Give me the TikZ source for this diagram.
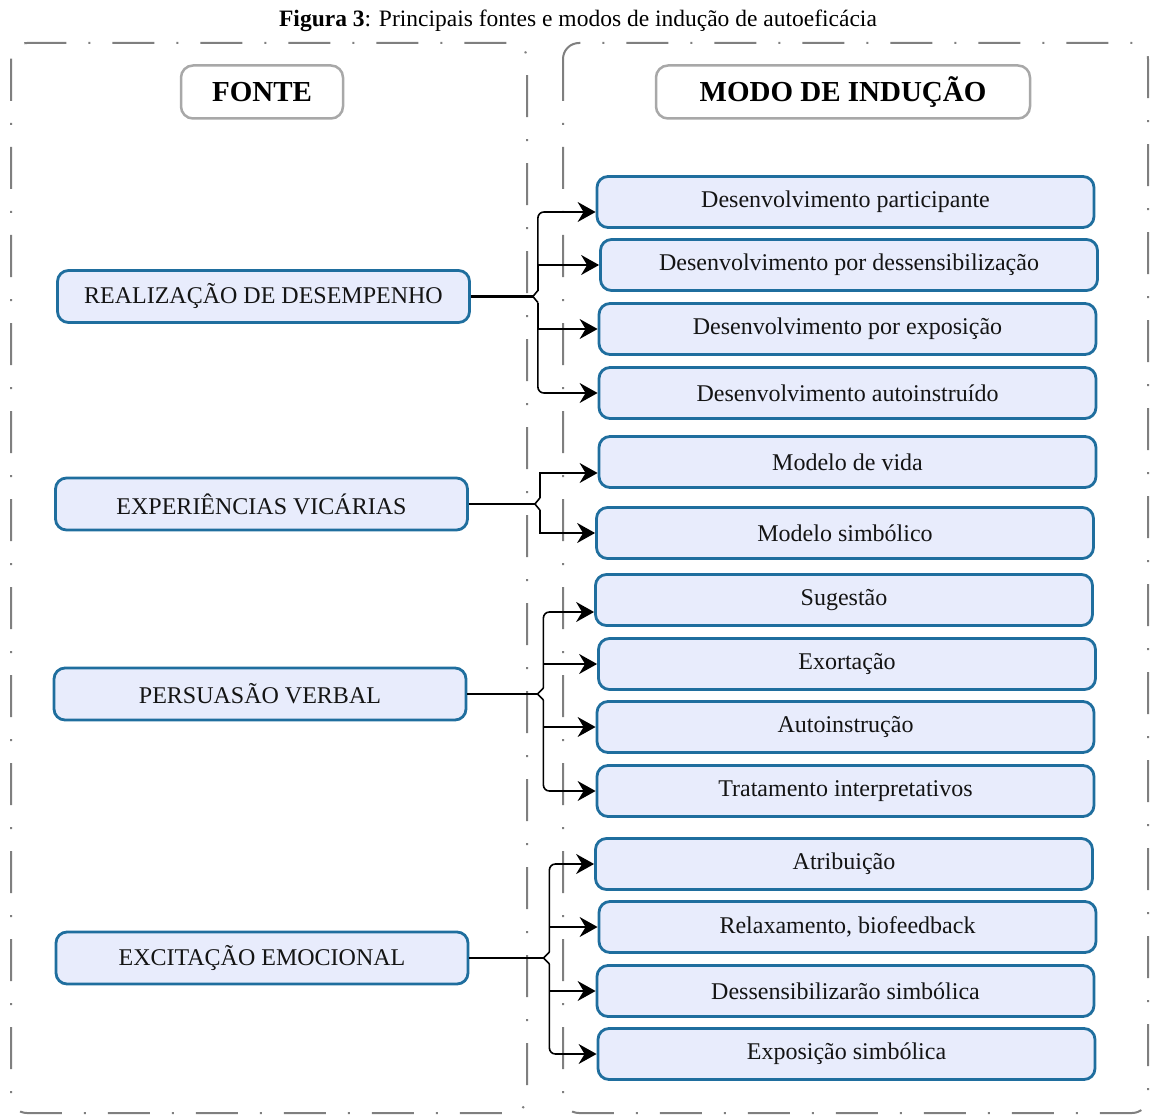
\documentclass[tikz,border=0pt]{standalone}
\usepackage{fontspec}
\setmainfont{Liberation Serif}
\usetikzlibrary{arrows.meta,calc}
\definecolor{boxfill}{HTML}{E8ECFC}
\definecolor{boxline}{HTML}{1F6E9E}
\definecolor{frameline}{HTML}{7F7F7F}
\definecolor{headline}{HTML}{A8A8A8}
\definecolor{ink}{HTML}{141414}
\begin{document}
\begin{tikzpicture}[x=1pt,y=-1pt,
  frame/.style={draw=frameline, line width=2pt,
    dash pattern=on 42pt off 22pt on 2pt off 22pt, rounded corners=16pt},
  head/.style={draw=headline, line width=2.5pt, fill=white, rounded corners=12pt,
    minimum height=53pt, inner sep=0pt, font=\fontsize{29}{32}\selectfont\bfseries},
  src/.style={draw=boxline, line width=2.8pt, fill=boxfill, rounded corners=11pt,
    minimum width=412pt, minimum height=52pt, inner sep=0pt, text=ink,
    font=\fontsize{24}{28}\selectfont},
  mode/.style={src, minimum width=497pt, minimum height=51pt},
  conn/.style={draw=black, line width=1.6pt},
  arr/.style={conn, -{Stealth[length=18pt,width=20pt,inset=6pt]}},
]
\useasboundingbox (0,0) rectangle (1150,1115);

% caption
\node[font=\fontsize{23.5}{26}\selectfont, text=black] (cap) at (578,21)
  {\textbf{Figura 3}: Principais fontes e modos de indução de autoeficácia};

% dashed frames of the two columns
\draw[frame] (11,43) rectangle (527,1113);
\draw[frame] (563,43) rectangle (1148,1113);

% column headers
\node[head, minimum width=162pt] (hfonte) at (262,92) {FONTE};
\node[head, minimum width=374pt] (hmodo) at (843,92) {MODO DE INDUÇÃO};

% sources
\node[src] (r1) at (263.5,296.5) {REALIZAÇÃO DE DESEMPENHO};
\node[src] (r2) at (261.5,504) {EXPERIÊNCIAS VICÁRIAS};
\node[src] (r3) at (260,694) {PERSUASÃO VERBAL};
\node[src] (r4) at (262,958) {EXCITAÇÃO EMOCIONAL};

% induction modes
\node[mode] (m1)  at (845.5,202)  {Desenvolvimento participante};
\node[mode] (m2)  at (849,265)    {Desenvolvimento por dessensibilização};
\node[mode] (m3)  at (847.5,329)  {Desenvolvimento por exposição};
\node[mode] (m4)  at (847.5,393)  {Desenvolvimento autoinstruído};
\node[mode] (m5)  at (847.5,462)  {Modelo de vida};
\node[mode] (m6)  at (845,533)    {Modelo simbólico};
\node[mode] (m7)  at (844,600)    {Sugestão};
\node[mode] (m8)  at (847,664)    {Exortação};
\node[mode] (m9)  at (845.5,727)  {Autoinstrução};
\node[mode] (m10) at (845.5,791)  {Tratamento interpretativos};
\node[mode] (m11) at (844,864)    {Atribuição};
\node[mode] (m12) at (847.5,927)  {Relaxamento, biofeedback};
\node[mode] (m13) at (845.5,991)  {Dessensibilizarão simbólica};
\node[mode] (m14) at (846.5,1054) {Exposição simbólica};

% brace connectors
% realização de desempenho
\draw[conn, line width=2.6pt] (r1.east) -- ++(62,0) coordinate (b1);
\draw[conn] (b1) -- ++(5,-6) coordinate (b1u);
\draw[conn] (b1) -- ++(5,6) coordinate (b1d);
\draw[arr, rounded corners=6pt] (b1u) |- ([yshift=-10pt]m1.west);
\draw[arr] (b1u) |- (m2.west);
\draw[arr] (b1d) |- (m3.west);
\draw[arr, rounded corners=6pt] (b1d) |- (m4.west);

% experiências vicárias
\draw[conn] (r2.east) -- ++(66,0) coordinate (b2);
\draw[conn] (b2) -- ++(5,-6) coordinate (b2u);
\draw[conn] (b2) -- ++(5,6) coordinate (b2d);
\draw[arr] (b2u) |- ([yshift=-11pt]m5.west);
\draw[arr] (b2d) |- (m6.west);

% persuasão verbal
\draw[conn] (r3.east) -- ++(70,0) coordinate (b3);
\draw[conn] (b3) -- ++(6,-6) coordinate (b3u);
\draw[conn] (b3) -- ++(6,6) coordinate (b3d);
\draw[arr, rounded corners=6pt] (b3u) |- ([yshift=-12pt]m7.west);
\draw[arr] (b3u) |- (m8.west);
\draw[arr] (b3d) |- (m9.west);
\draw[arr, rounded corners=6pt] (b3d) |- (m10.west);

% excitação emocional
\draw[conn] (r4.east) -- ++(74,0) coordinate (b4);
\draw[conn] (b4) -- ++(6,-6) coordinate (b4u);
\draw[conn] (b4) -- ++(6,6) coordinate (b4d);
\draw[arr, rounded corners=6pt] (b4u) |- (m11.west);
\draw[arr] (b4u) |- (m12.west);
\draw[arr] (b4d) |- (m13.west);
\draw[arr, rounded corners=6pt] (b4d) |- (m14.west);
\end{tikzpicture}
\end{document}
